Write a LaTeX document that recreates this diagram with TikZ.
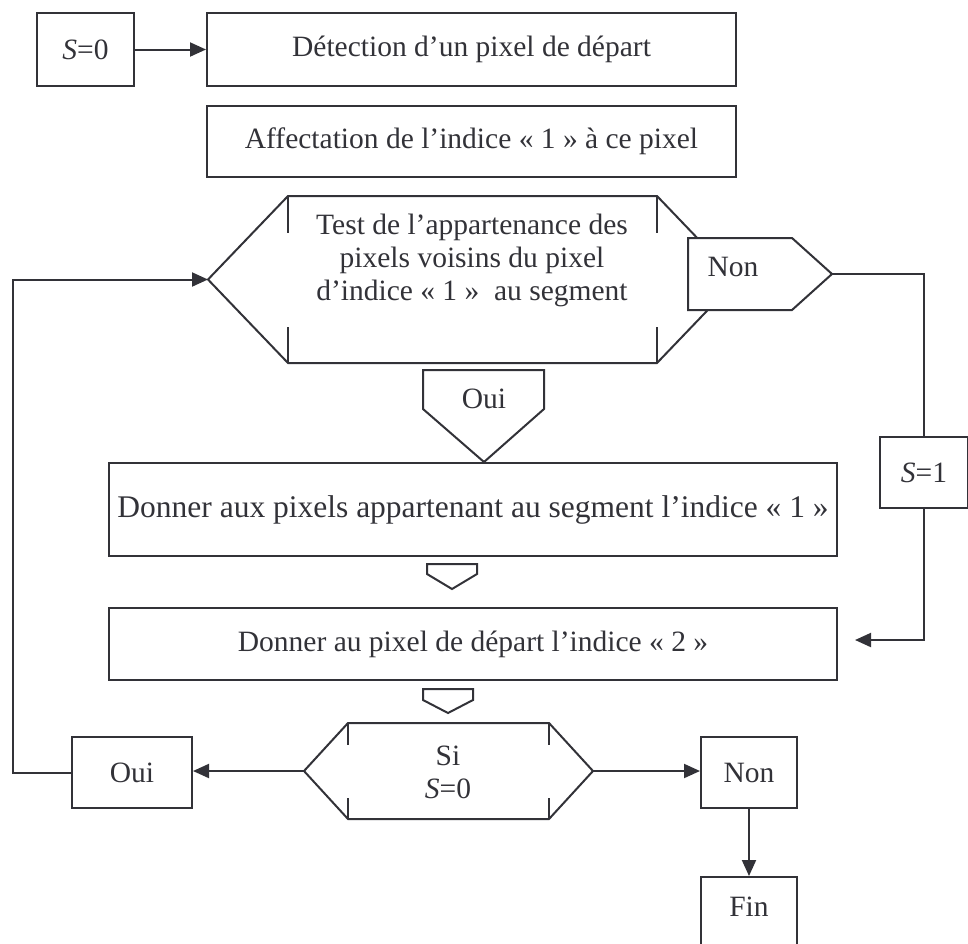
\documentclass[tikz,border=0pt]{standalone}
\usepackage{fontspec}
\setmainfont{Liberation Serif}
\usetikzlibrary{arrows.meta}
\definecolor{ink}{RGB}{50,50,56}

\begin{document}
\begin{tikzpicture}[x=1pt,y=-1pt,line width=2pt,color=ink,
  every node/.style={font=\fontsize{29.5}{33}\selectfont},
  box/.style={draw,rectangle,inner sep=0pt},
  >={Triangle[length=16pt,width=14pt]}]
\useasboundingbox (0,0) rectangle (968,943);
\clip (0,0) rectangle (968,943);
% start
\node[box,minimum width=97pt,minimum height=73pt] (s0) at (85.5,49.5) {\textit{S}=0};
\node[box,minimum width=529pt,minimum height=73pt] (detect) at (471.5,49.5) {Détection d’un pixel de départ};
\node[box,minimum width=529pt,minimum height=71pt] (affect) at (471.5,141.5) {Affectation de l’indice « 1 » à ce pixel};
\draw[->] (s0) -- (detect);
% test on the neighbours
\coordinate (tL) at (208,279.5);
\coordinate (tR) at (737,279.5);
\draw (tL) -- (288,196) -- (657,196) -- (tR) -- (657,363) -- (288,363) -- cycle;
\draw (288,196) -- (288,233) (288,327) -- (288,363) (657,196) -- (657,233) (657,327) -- (657,363);
\node[align=center] (test) at (472,260) {Test de l’appartenance des\\pixels voisins du pixel\\d’indice « 1 »\ \ au segment};
\draw[fill=white] (688,238) -- (792,238) -- (832,274) -- (792,310) -- (688,310) -- cycle;
\node (nonT) at (733,267) {Non};
\coordinate (nonTip) at (832,274);
\draw[fill=white] (423,370) -- (544,370) -- (544,409) -- (484,462) -- (423,409) -- cycle;
\node (ouiT) at (484,399) {Oui};
% branch S=1
\node[box,minimum width=88pt,minimum height=71pt] (s1) at (924,472.5) {\textit{S}=1};
\coordinate (back) at (855,640);
\draw (nonTip) -| (s1.north);
\draw[->] (s1.south) |- (back);
% indices
\node[box,minimum width=728pt,minimum height=93pt,font=\fontsize{31.5}{35}\selectfont] (donner1) at (473,509.5) {Donner aux pixels appartenant au segment l’indice « 1 »};
\draw (427,564) -- (477,564) -- (477,574) -- (452,589) -- (427,574) -- cycle;
\node[box,minimum width=728pt,minimum height=72pt] (donner2) at (473,644) {Donner au pixel de départ l’indice « 2 »};
\draw (423,689) -- (473,689) -- (473,700) -- (448,713) -- (423,700) -- cycle;
% last test
\coordinate (sL) at (304,771);
\coordinate (sR) at (593,771);
\draw (sL) -- (348,723) -- (549,723) -- (sR) -- (549,819) -- (348,819) -- cycle;
\draw (348,723) -- (348,745) (348,798) -- (348,819) (549,723) -- (549,745) (549,798) -- (549,819);
\node[align=center] (si) at (448,772) {Si\\\textit{S}=0};
\node[box,minimum width=120pt,minimum height=71pt] (ouiB) at (132,772.5) {Oui};
\node[box,minimum width=96pt,minimum height=71pt] (nonB) at (749,772.5) {Non};
\node[box,minimum width=96pt,minimum height=90pt,anchor=north] (fin) at (749,876) {};
\node at (749,907) {Fin};
\draw[->] (sL) -- (sL -| ouiB.east);
\draw[->] (sR) -- (sR -| nonB.west);
\draw[->] (nonB) -- (fin);
\draw[->] (ouiB.west) -- ++(-58,0) |- (tL);
\end{tikzpicture}
\end{document}
